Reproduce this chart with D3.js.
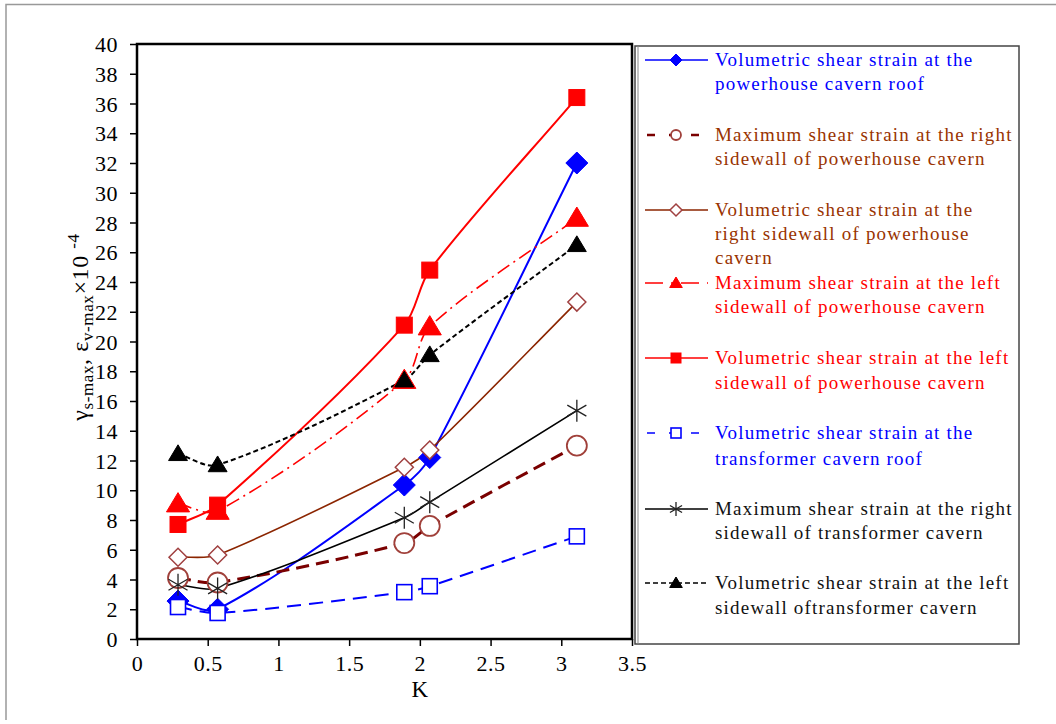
<!DOCTYPE html>
<html><head><meta charset="utf-8">
<script src="https://cdn.jsdelivr.net/npm/d3@7"></script>
<style>body{margin:0;background:#fff}svg{display:block}text{font-family:"Liberation Serif","Times New Roman",serif}</style>
</head><body>
<svg id="c" width="1056" height="724"></svg>
<script>
const kValues = [0.29, 0.57, 1.89, 2.07, 3.11];
const xTicks = [0, 0.5, 1, 1.5, 2, 2.5, 3, 3.5];
const yTicks = d3.range(0, 41, 2);
const roofPH = [2.55, 2.0, 10.35, 12.2, 32.0];
const maxRightPH = [4.1, 3.8, 6.45, 7.6, 13.0];
const volRightPH = [5.5, 5.65, 11.55, 12.7, 22.65];
const maxLeftPH = [9.1, 8.6, 17.4, 21.0, 28.3];
const volLeftPH = [7.7, 9.0, 21.1, 24.8, 36.4];
const roofTC = [2.15, 1.75, 3.15, 3.55, 6.9];
const maxRightTC = [3.65, 3.4, 8.15, 9.2, 15.35];
const volLeftTC = [12.45, 11.7, 17.4, 19.1, 26.5];
const labels = [
  ["Volumetric shear strain at the", "powerhouse cavern roof"],
  ["Maximum shear strain at the right", "sidewall of powerhouse cavern"],
  ["Volumetric shear strain at the", "right sidewall of powerhouse", "cavern"],
  ["Maximum shear strain at the left", "sidewall of powerhouse cavern"],
  ["Volumetric shear strain at the left", "sidewall of powerhouse cavern"],
  ["Volumetric shear strain at the", "transformer cavern roof"],
  ["Maximum shear strain at the right", "sidewall of transformer cavern"],
  ["Volumetric shear strain at the left", "sidewall oftransformer cavern"]
];

const series = [
  {v: roofPH, color:"#0000ff", dash:null, w:2, marker:"diamond", fill:"#0000ff", mstroke:"#0000ff", ms:11, lms:6, text:"#0000ff"},
  {v: maxRightPH, color:"#7a0000", dash:"13,7", w:3, marker:"circle", fill:"#fff", mstroke:"#a0403a", ms:10, lms:5, text:"#993300"},
  {v: volRightPH, color:"#8b2500", dash:null, w:1.6, marker:"odiamond", fill:"#fff", mstroke:"#a04040", ms:9, lms:6, text:"#993300"},
  {v: maxLeftPH, color:"#ff0000", dash:"14,5,2,5", w:1.6, marker:"triangle", fill:"#ff0000", mstroke:"#ff0000", ms:11, lms:6, text:"#ff0000"},
  {v: volLeftPH, color:"#ff0000", dash:null, w:2, marker:"square", fill:"#ff0000", mstroke:"#ff0000", ms:8, lms:5, text:"#ff0000"},
  {v: roofTC, color:"#0000ff", dash:"14,8", w:2, marker:"osquare", fill:"#fff", mstroke:"#0000ff", ms:7.5, lms:5, text:"#0000ff"},
  {v: maxRightTC, color:"#000000", dash:null, w:1.6, marker:"star", fill:"none", mstroke:"#222", ms:11, lms:7, text:"#111"},
  {v: volLeftTC, color:"#000000", dash:"5,3", w:2, marker:"triangle", fill:"#000", mstroke:"#000", ms:9, lms:6, text:"#111"}
];

const svg = d3.select("#c");
const L = 137, T = 44, R = 632, B = 639;
const x = d3.scaleLinear().domain([0, 3.5]).range([L, R]);
const y = d3.scaleLinear().domain([0, 40]).range([B, T]);

svg.append("path").attr("d","M6,720V4.5H1056").attr("fill","none").attr("stroke","#999").attr("stroke-width",1.5);

const xa = svg.append("g").attr("transform",`translate(0,${B})`).call(d3.axisBottom(x).tickValues(xTicks).tickFormat(d3.format("")).tickSize(7).tickSizeOuter(0));
const ya = svg.append("g").attr("transform",`translate(${L},0)`).call(d3.axisLeft(y).tickValues(yTicks).tickSize(7).tickSizeOuter(0));
[xa, ya].forEach(a => {
  a.select(".domain").remove();
  a.selectAll("line").attr("stroke","#000").attr("stroke-width",1.5);
  a.selectAll("text").attr("font-size",22).attr("letter-spacing",0.5).attr("fill","#000").attr("font-family","Liberation Serif, serif");
});
xa.selectAll("text").attr("dy","1.0em");
ya.selectAll("text").attr("dy","0.35em").attr("x",-19);

svg.append("rect").attr("x",L).attr("y",T).attr("width",R-L).attr("height",B-T).attr("fill","none").attr("stroke","#000").attr("stroke-width",2.5);

svg.append("text").attr("x",x(2)).attr("y",697).attr("text-anchor","middle").attr("font-size",23).text("K");
const yl = svg.append("text").attr("transform","translate(88,327) rotate(-90)").attr("text-anchor","middle").attr("font-size",24).attr("letter-spacing",0.6);
yl.append("tspan").text("γ");
yl.append("tspan").attr("font-size",17).attr("dy",5).text("s-max");
yl.append("tspan").attr("dy",-5).text(", ε");
yl.append("tspan").attr("font-size",17).attr("dy",5).text("v-max");
yl.append("tspan").attr("dy",-5).text("×10 ");
yl.append("tspan").attr("font-size",17).attr("dy",-9).text("-4");

function drawMarker(g, type, cx, cy, s, fill, stroke) {
  if (type==="diamond" || type==="odiamond") {
    g.append("path").attr("d",`M${cx},${cy-s}L${cx+s},${cy}L${cx},${cy+s}L${cx-s},${cy}Z`).attr("fill",fill).attr("stroke",stroke).attr("stroke-width",type==="odiamond"?1.5:1);
  } else if (type==="circle") {
    g.append("circle").attr("cx",cx).attr("cy",cy).attr("r",s).attr("fill",fill).attr("stroke",stroke).attr("stroke-width",1.8);
  } else if (type==="triangle") {
    g.append("path").attr("d",`M${cx},${cy-s}L${cx+s*1.05},${cy+s*0.75}L${cx-s*1.05},${cy+s*0.75}Z`).attr("fill",fill).attr("stroke",stroke).attr("stroke-width",1);
  } else if (type==="square") {
    g.append("rect").attr("x",cx-s).attr("y",cy-s).attr("width",2*s).attr("height",2*s).attr("fill",fill).attr("stroke",stroke);
  } else if (type==="osquare") {
    g.append("rect").attr("x",cx-s).attr("y",cy-s).attr("width",2*s).attr("height",2*s).attr("fill",fill).attr("stroke",stroke).attr("stroke-width",1.6);
  } else if (type==="star") {
    const p = [];
    for (let i=0;i<3;i++){const a=Math.PI/2+i*Math.PI/3; const dx=Math.cos(a)*s, dy=Math.sin(a)*s; p.push(`M${cx-dx},${cy-dy}L${cx+dx},${cy+dy}`);}
    g.append("path").attr("d",p.join("")).attr("stroke",stroke).attr("stroke-width",1.3).attr("fill","none");
  }
}

function smoothPath(pts, f) {
  const n = pts.length;
  const dir = pts.map((p,i) => {
    const a = pts[Math.max(0,i-1)], b = pts[Math.min(n-1,i+1)];
    const dx = b[0]-a[0], dy = b[1]-a[1], l = Math.hypot(dx,dy) || 1;
    return [dx/l, dy/l];
  });
  const path = d3.path();
  path.moveTo(pts[0][0], pts[0][1]);
  for (let i=0;i<n-1;i++){
    const p = pts[i], q = pts[i+1];
    const len = Math.hypot(q[0]-p[0], q[1]-p[1]) * f;
    path.bezierCurveTo(p[0]+dir[i][0]*len, p[1]+dir[i][1]*len, q[0]-dir[i+1][0]*len, q[1]-dir[i+1][1]*len, q[0], q[1]);
  }
  return path.toString();
}

const plot = svg.append("g");
series.forEach(s => {
  const pts = kValues.map((k,i)=>[x(k), y(s.v[i])]);
  plot.append("path").attr("d", smoothPath(pts, 0.3)).attr("fill","none").attr("stroke", s.color).attr("stroke-width", s.w).attr("stroke-dasharray", s.dash);
});
series.forEach(s => {
  const g = plot.append("g");
  kValues.forEach((k,i)=> drawMarker(g, s.marker, x(k), y(s.v[i]), s.ms, s.fill, s.mstroke));
});

const LX0 = 635, LY0 = 46, LX1 = 1019, LY1 = 644;
svg.append("rect").attr("x",LX0).attr("y",LY0).attr("width",LX1-LX0).attr("height",LY1-LY0).attr("fill","#fff").attr("stroke","#444").attr("stroke-width",1.5);
svg.append("line").attr("x1",LX0+3).attr("x2",LX0+3).attr("y1",LY0).attr("y2",LY1).attr("stroke","#888").attr("stroke-width",1);
const rowY = [60, 135, 210, 283, 358, 433, 509, 583];
const lineH = [23.5, 23.5, 24, 23.5, 24.5, 26, 24, 25];
series.forEach((s,i) => {
  const yy = rowY[i];
  const g = svg.append("g");
  g.append("line").attr("x1",645).attr("x2",708).attr("y1",yy).attr("y2",yy).attr("stroke",s.color).attr("stroke-width",s.w>2.5?2.5:1.6).attr("stroke-dasharray", s.dash ? (i===7?"5,3":(i===3?"18,8,2,8":"8,14")) : null).attr("stroke-dashoffset", s.dash && i!==7 && i!==3 ? -2 : 0);
  drawMarker(g, s.marker, 676, yy, s.lms, s.fill, s.marker==="odiamond"?"#a04040":s.mstroke);
  const t = g.append("text").attr("x",715).attr("y",yy+6).attr("font-size",19).attr("letter-spacing",1.2).attr("fill",s.text);
  labels[i].forEach((ln,j)=> t.append("tspan").attr("x",715).attr("y",yy+6+j*lineH[i]).text(ln));
});
</script>
</body></html>
